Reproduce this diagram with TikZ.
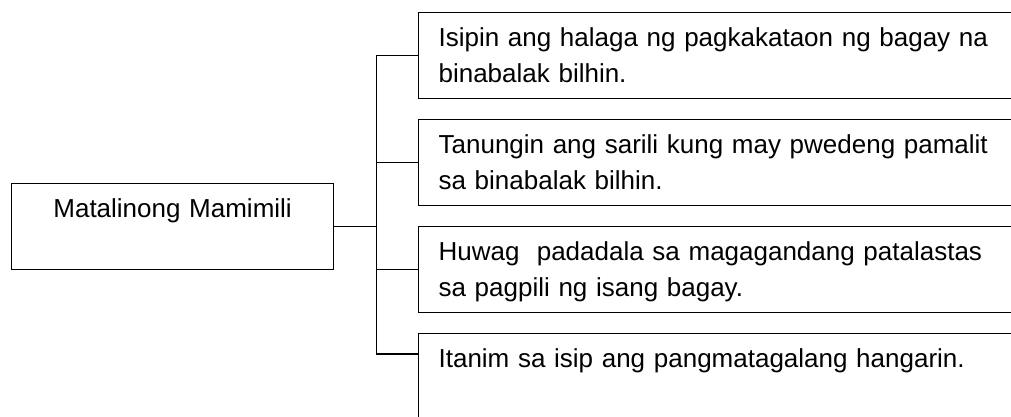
\documentclass[tikz,border=0pt]{standalone}
\usepackage{fontspec}
\setmainfont{Liberation Sans}

\begin{document}
\begin{tikzpicture}[x=1pt, y=-1pt,
    topic/.style={rectangle, draw=black, line width=1.2pt, inner xsep=0pt, inner ysep=0pt, text width=322pt, align=center, anchor=north west, text height=34pt, text depth=52pt, font=\fontsize{26}{36}\selectfont},
    idea/.style={rectangle, draw=black, line width=1.2pt, inner xsep=20pt, inner ysep=0pt, text width=620pt, align=left, anchor=north west, text height=34pt, text depth=52pt, font=\fontsize{26}{36}\selectfont},
    link/.style={draw=black, line width=1.2pt}]
    \clip (0,0) rectangle (1011,416);

    % Main box
    \node (main) [topic] at (11,183) {Matalinong Mamimili};

    % Tips on the right
    \node (i1) [idea] at (418,12) {Isipin ang halaga ng pagkakataon ng bagay na\\binabalak bilhin.};
    \node (i2) [idea] at (418,119) {Tanungin ang sarili kung may pwedeng pamalit\\sa binabalak bilhin.};
    \node (i3) [idea] at (418,226) {Huwag~ padadala sa magagandang patalastas\\sa pagpili ng isang bagay.};
    \node (i4) [idea, text depth=110pt] at (418,333) {Itanim sa isip ang pangmatagalang hangarin.};

    % Connectors
    \coordinate (hub) at ([xshift=42pt]main.east);
    \draw[link] (main.east) -- (hub);
    \draw[link] (hub) |- (i1.west);
    \draw[link] (hub) |- (i2.west);
    \draw[link] (hub) |- (i3.west);
    \draw[link] (hub) |- ([yshift=-21pt]i4.north west);
\end{tikzpicture}
\end{document}
